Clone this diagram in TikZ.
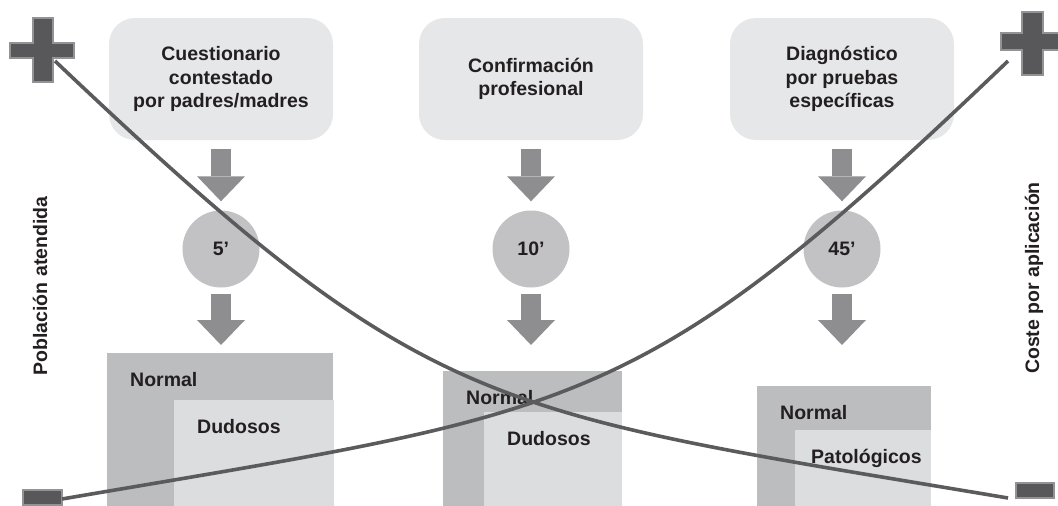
\documentclass[tikz,border=0pt]{standalone}
\usepackage{fontspec}
\setmainfont{Liberation Sans}
\usepackage{xcolor}
\usetikzlibrary{positioning, calc, arrows.meta}
\definecolor{boxgray}{HTML}{E6E7E8}
\definecolor{circgray}{HTML}{C2C2C4}
\definecolor{arrgray}{HTML}{8E8E90}
\definecolor{outgray}{HTML}{BCBDBF}
\definecolor{ingray}{HTML}{DCDDDE}
\definecolor{curvegray}{HTML}{5B5B5D}
\definecolor{signgray}{HTML}{58585A}
\definecolor{signedge}{HTML}{939395}
\definecolor{txt}{HTML}{231F20}

\begin{document}
\begin{tikzpicture}[x=1pt,y=-1pt,
    font=\fontsize{19.5}{23.5}\selectfont\bfseries, text=txt,
    paso/.style={fill=boxgray,rounded corners=26pt,minimum width=224pt,minimum height=122pt,align=center,inner sep=0pt},
    tiempo/.style={circle,fill=circgray,minimum size=77pt,inner sep=0pt},
    flecha/.style={draw=arrgray,line width=20pt,-{Triangle[width=48pt,length=25pt,line width=0pt]}},
    grupo/.style={anchor=north west,inner sep=0pt,minimum height=160pt},
    etiq/.style={anchor=base west,inner sep=0pt},
    curva/.style={draw=curvegray,line width=3.6pt},
    signo/.style={fill=signgray,draw=signedge,line width=1.5pt}]
  \useasboundingbox (0,0) rectangle (1058,506);
  % pasos
  \node[paso] (q1) at (221,79) {Cuestionario\\contestado\\por padres/madres};
  \node[paso] (q2) at (531,79) {Confirmación\\profesional};
  \node[paso] (q3) at (842,79) {Diagnóstico\\por pruebas\\específicas};
  % tiempos
  \node[tiempo] (t1) at (221,249) {5’};
  \node[tiempo] (t2) at (531,249) {10’};
  \node[tiempo] (t3) at (842,249) {45’};
  \coordinate (e1) at (221,345);
  \coordinate (e2) at (531,345);
  \coordinate (e3) at (842,345);
  \foreach \i in {1,2,3}{
    \draw[flecha,shorten <=9pt,shorten >=9pt] (q\i.south) -- (t\i.north);
    \draw[flecha,shorten <=6pt] (t\i.south) -- (e\i);
  }
  % grupos
  \node[grupo,fill=outgray,minimum width=226pt] (g1) at (107,353) {};
  \node[grupo,fill=ingray,minimum width=160pt] (h1) at (174,400) {};
  \node[grupo,fill=outgray,minimum width=179pt] (g2) at (443,371) {};
  \node[grupo,fill=ingray,minimum width=138pt] (h2) at (484,412) {};
  \node[grupo,fill=outgray,minimum width=174pt] (g3) at (757,386) {};
  \node[grupo,fill=ingray,minimum width=136pt] (h3) at (795,430) {};
  \node[etiq] (n1) at ($(g1.north west)+(23,33)$) {Normal};
  \node[etiq] (d1) at ($(h1.north west)+(23,33)$) {Dudosos};
  \node[etiq] (n2) at ($(g2.north west)+(23,33)$) {Normal};
  \node[etiq] (d2) at ($(h2.north west)+(23,33)$) {Dudosos};
  \node[etiq] (n3) at ($(g3.north west)+(23,33)$) {Normal};
  \node[etiq] (d3) at ($(h3.north west)+(16,33)$) {Patológicos};
  % ejes
  \node[rotate=90] (pob) at (40,286) {Población atendida};
  \node[rotate=90] (cos) at (1034,278) {Coste por aplicación};
  % signos
  \draw[signo] (33,18) -- (53,18) -- (53,43) -- (74,43) -- (74,58) -- (53,58) -- (53,82)
    -- (33,82) -- (33,58) -- (10,58) -- (10,43) -- (33,43) -- cycle;
  \draw[signo] (1022,12) -- (1043,12) -- (1043,33) -- (1064,33) -- (1064,50) -- (1043,50)
    -- (1043,75) -- (1022,75) -- (1022,50) -- (1001,50) -- (1001,33) -- (1022,33) -- cycle;
  \draw[signo] (23,490) rectangle (62,505);
  \draw[signo] (1016,483) rectangle (1054,498);
  % curvas
  \coordinate (a0) at (55,61);
  \coordinate (a1) at (1008,498);
  \coordinate (b0) at (62,499);
  \coordinate (b1) at (1008,61);
  \draw[curva] (a0) .. controls (430,417) and (483,410) .. (a1);
  \draw[curva] (b0) .. controls (583,410) and (636,417) .. (b1);
\end{tikzpicture}
\end{document}
